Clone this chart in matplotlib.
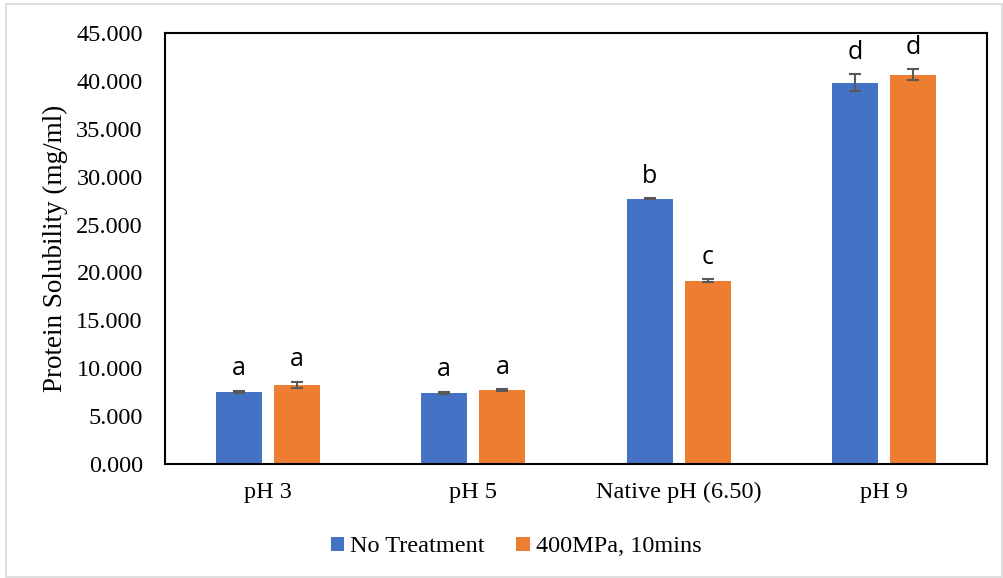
import matplotlib
matplotlib.use("Agg")
import matplotlib.pyplot as plt
import numpy as np
from matplotlib.patches import Rectangle

categories = ["pH 3", "pH 5", "Native pH (6.50)", "pH 9"]
series_names = ["No Treatment", "400MPa, 10mins"]
no_treatment = [7.55, 7.45, 27.70, 39.80]
no_treatment_err = [0.12, 0.10, 0.08, 0.90]
hpp = [8.25, 7.72, 19.15, 40.65]
hpp_err = [0.35, 0.12, 0.15, 0.60]
letters_nt = ["a", "a", "b", "d"]
letters_hpp = ["a", "a", "c", "d"]
yticks = [0, 5, 10, 15, 20, 25, 30, 35, 40, 45]

blue = "#4472C4"
orange = "#ED7D31"
serif = ["Liberation Serif", "DejaVu Serif"]

fig = plt.figure(figsize=(10.04, 5.78), dpi=100)
ax = fig.add_axes([165/1004, 1-464/578, 822/1004, 431/578])

x = np.arange(len(categories))
w = 0.224
off = 0.142
errkw = dict(ecolor="#595959", elinewidth=1.5, capsize=4.5, capthick=1.5)
b1 = ax.bar(x - off, no_treatment, w, yerr=no_treatment_err, color=blue,
            label=series_names[0], error_kw=errkw, zorder=2)
b2 = ax.bar(x + off, hpp, w, yerr=hpp_err, color=orange,
            label=series_names[1], error_kw=errkw, zorder=2)

for xi, v, e, t in zip(x - off, no_treatment, no_treatment_err, letters_nt):
    ax.annotate(t, (xi, v + e), xytext=(0, 11), textcoords="offset points",
                ha="center", va="baseline", fontsize=18, family="Open Sans")
for xi, v, e, t in zip(x + off, hpp, hpp_err, letters_hpp):
    ax.annotate(t, (xi, v + e), xytext=(0, 11), textcoords="offset points",
                ha="center", va="baseline", fontsize=18, family="Open Sans")

ax.set_xlim(-0.5, 3.5)
ax.set_ylim(0, 45)
ax.set_yticks(yticks)
ax.set_yticklabels([f"{t:.3f}" for t in yticks], family=serif, fontsize=17.5)
ax.set_xticks(x)
ax.set_xticklabels(categories, family=serif, fontsize=17.5)
ax.tick_params(axis="both", length=0)
ax.tick_params(axis="y", pad=16)
ax.tick_params(axis="x", pad=13)
for s in ax.spines.values():
    s.set_linewidth(1.5)
    s.set_color("black")
ax.set_ylabel("Protein Solubility (mg/ml)", family=serif, fontsize=19.5, labelpad=6)

leg = fig.legend(handles=[b1, b2], labels=series_names, loc="center",
                 bbox_to_anchor=(0.514, 1-547/578), ncol=2, frameon=False,
                 prop={"family": serif, "size": 17.5}, handlelength=0.55,
                 handleheight=0.55, handletextpad=0.25, columnspacing=1.3)

fig.patches.append(Rectangle((6/1004, 1/578), 996/1004, 573/578,
                             transform=fig.transFigure, fill=False,
                             edgecolor="#d9d9d9", linewidth=1.2))

fig.savefig("out.png", dpi=100)
